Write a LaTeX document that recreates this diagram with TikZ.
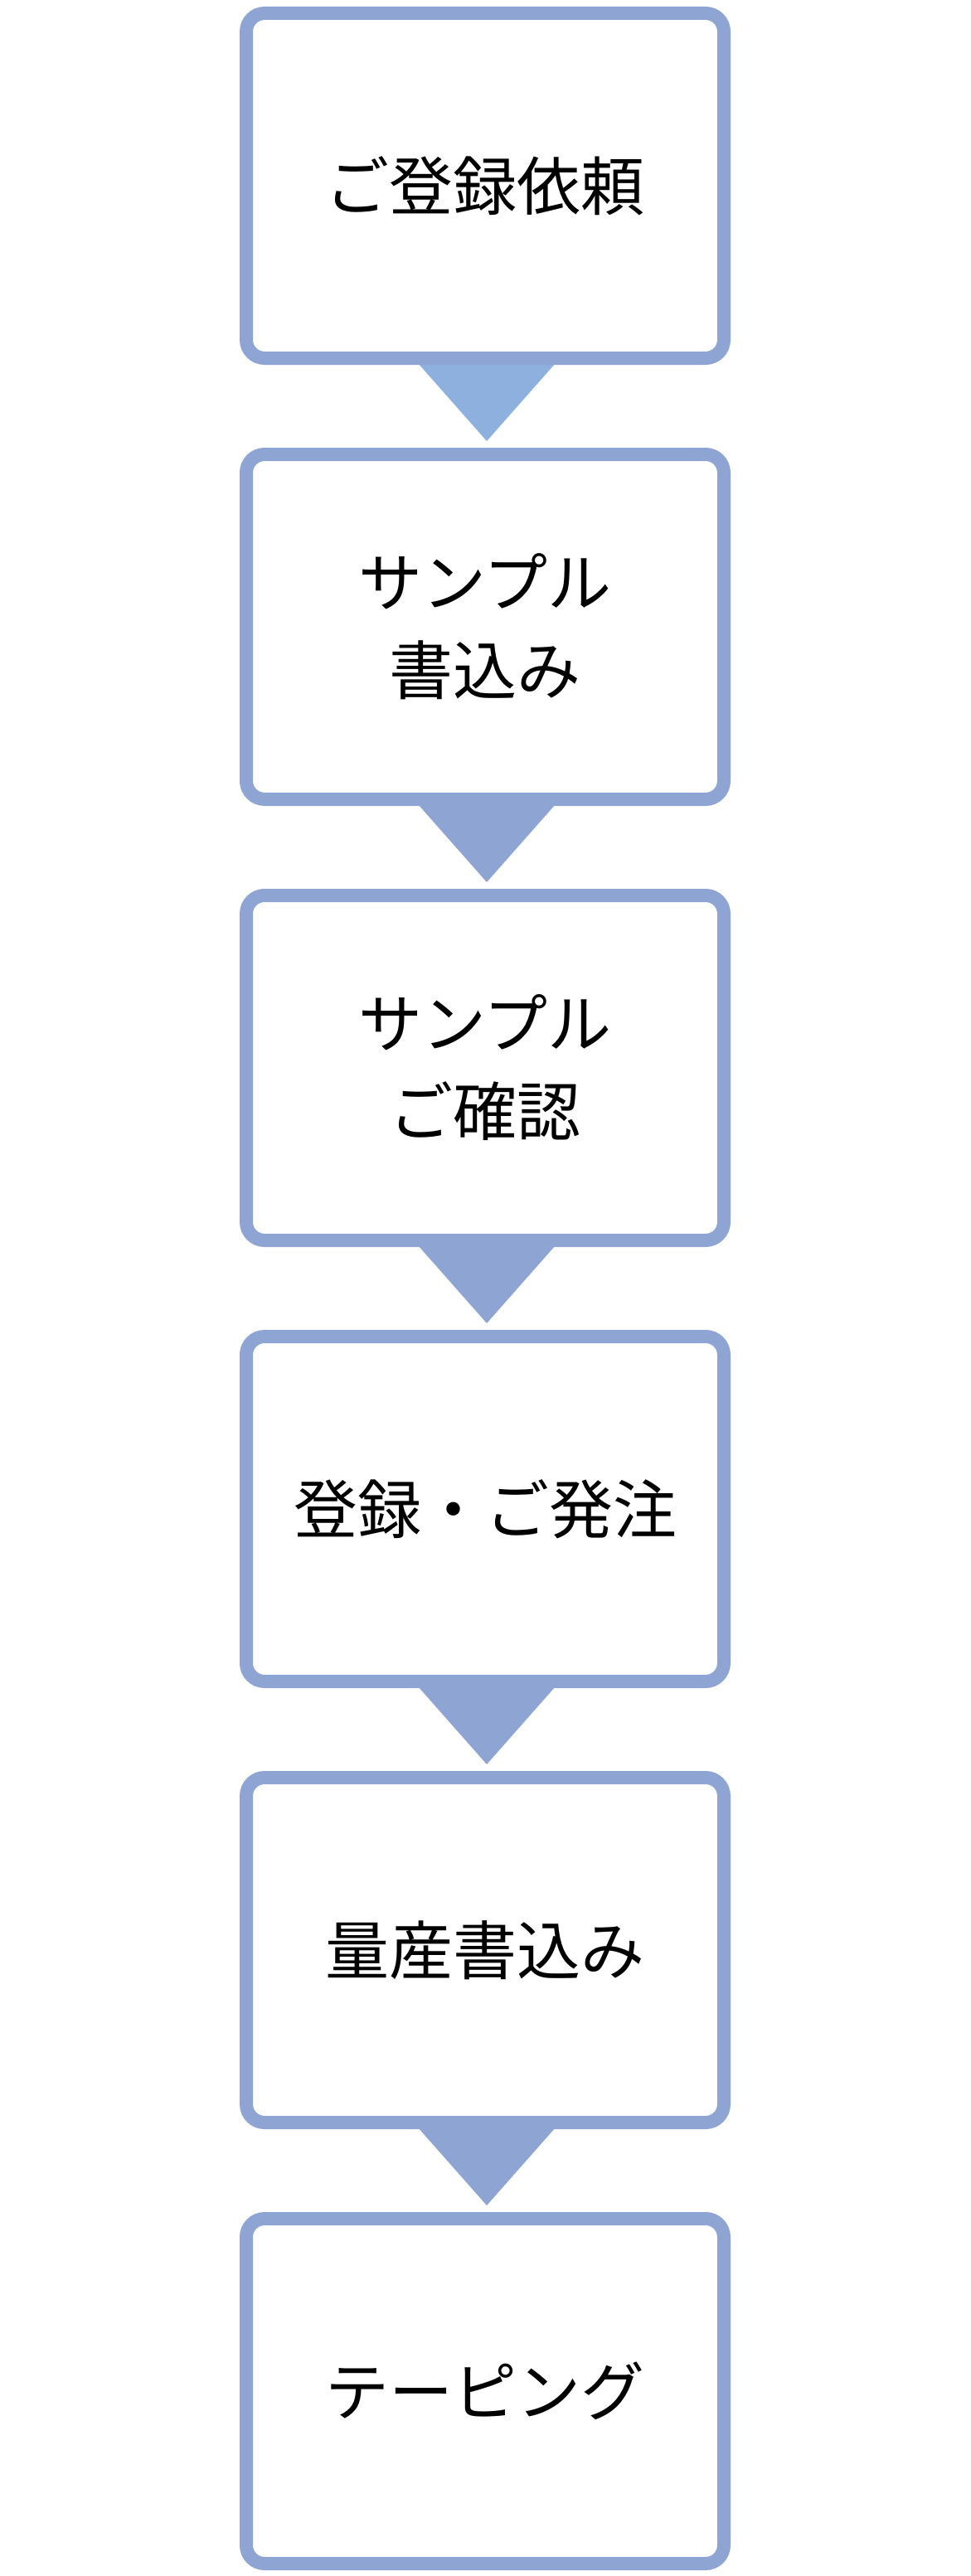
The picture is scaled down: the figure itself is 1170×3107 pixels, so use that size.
\documentclass[tikz,border=0pt]{standalone}
\usepackage{fontspec}
\setmainfont{Noto Sans CJK JP}
\definecolor{bord}{HTML}{8EA5D4}
\definecolor{tri1}{HTML}{8EB0DE}
\begin{document}
\begin{tikzpicture}[x=1pt,y=-1pt,
  stepbox/.style={draw=bord,line width=16pt,rounded corners=22pt,fill=white},
  lbl/.style={font=\fontsize{77}{106}\selectfont,align=center}]
\useasboundingbox (0,0) rectangle (1170,3107);
\fill[white] (0,0) rectangle (1170,3107);
\foreach \k/\c in {0/tri1,1/bord,2/bord,3/bord,4/bord}{
  \fill[\c] (504,{438+532*\k}) -- (670,{438+532*\k}) -- (587,{532+532*\k}) -- cycle;
}
\foreach \k/\t in {0/{ご登録依頼},1/{サンプル\\書込み},2/{サンプル\\ご確認},3/{登録・ご発注},4/{量産書込み},5/{テーピング}}{
  \draw[stepbox] (297,{16+532*\k}) rectangle (873,{432+532*\k});
  \node[lbl] (n\k) at (585,{224+532*\k}) {\t};
}
\end{tikzpicture}
\end{document}
